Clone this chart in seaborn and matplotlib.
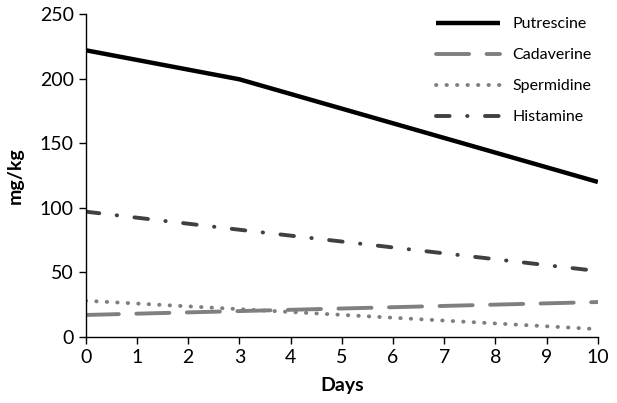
import matplotlib
matplotlib.use("Agg")
import matplotlib.pyplot as plt
import seaborn as sns
import pandas as pd

days = [0, 3, 10]
putrescine = [222, 199.5, 120]
cadaverine = [17, 20, 27]
spermidine = [28, 21.5, 6]
histamine = [97, 83, 51]

sns.set_theme(style="ticks")
plt.rcParams['font.family'] = ['Lato', 'DejaVu Sans']

fig = plt.figure(figsize=(6.17, 4.03), dpi=100)
ax = fig.add_axes([0.139, 0.164, 0.830, 0.801])

series = [
    ("Putrescine", putrescine, "#000000", 3.2, (None, None)),
    ("Cadaverine", cadaverine, "#7f7f7f", 2.8, (8.5, 4.5)),
    ("Spermidine", spermidine, "#7f7f7f", 2.8, (0.1, 2.6)),
    ("Histamine", histamine, "#404040", 2.8, (3.5, 4.5, 0.1, 4.5)),
]

for name, vals, color, lw, dash in series:
    df = pd.DataFrame({"Days": days, "mg/kg": vals})
    sns.lineplot(data=df, x="Days", y="mg/kg", ax=ax, color=color, linewidth=lw,
                 label=name)
    line = ax.get_lines()[-1]
    if dash[0] is not None:
        line.set_dashes(dash)
    line.set_dash_capstyle("round")
    line.set_solid_capstyle("butt")

ax.set_xlim(0, 10)
ax.set_ylim(0, 250)
ax.set_xticks(range(0, 11))
ax.set_yticks(range(0, 251, 50))
ax.tick_params(axis="both", labelsize=14, length=5, width=1, color="black", labelcolor="black", direction="out")
for s in ["left", "bottom"]:
    ax.spines[s].set_color("black")
    ax.spines[s].set_linewidth(1)
sns.despine(ax=ax)
ax.set_xlabel("Days", fontsize=14, fontweight="bold", color="black", labelpad=8)
ax.set_ylabel("mg/kg", fontsize=14, fontweight="bold", color="black", labelpad=12)

leg = ax.legend(loc="upper right", frameon=False, fontsize=11.5, handlelength=4.0,
                labelspacing=1.05, handletextpad=0.75, borderaxespad=0.0,
                bbox_to_anchor=(1.0, 1.01))
for t in leg.get_texts():
    t.set_color("black")

fig.savefig("out.png", dpi=100)
